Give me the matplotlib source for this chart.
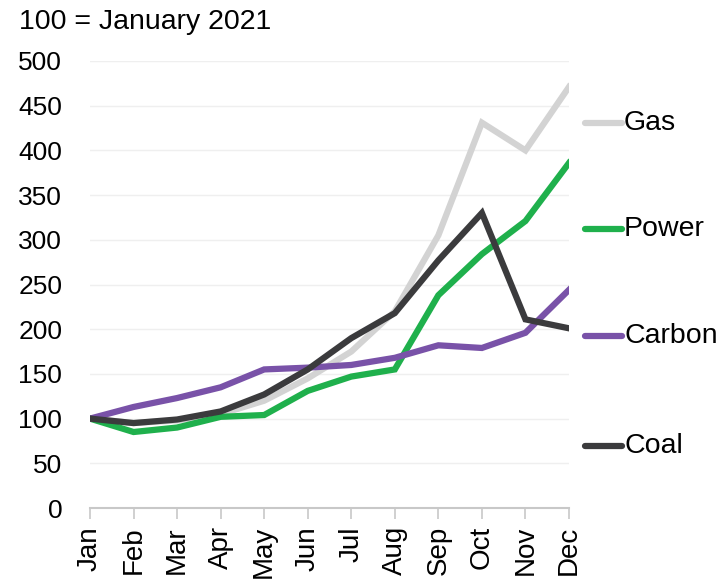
import numpy as np
import matplotlib.pyplot as plt

plt.rcParams['font.family'] = ['Liberation Sans', 'DejaVu Sans']

months = ['Jan', 'Feb', 'Mar', 'Apr', 'May', 'Jun', 'Jul', 'Aug', 'Sep', 'Oct', 'Nov', 'Dec']
gas = [100, 95, 98, 105, 120, 145, 175, 220, 305, 431, 400, 471]
power = [100, 85, 90, 102, 104, 131, 147, 155, 238, 284, 321, 386]
carbon = [100, 113, 123, 135, 155, 157, 160, 168, 182, 179, 196, 244]
coal = [100, 95, 99, 108, 127, 155, 190, 218, 277, 330, 211, 201]

series = [('Gas', gas, '#d3d3d3'),
          ('Power', power, '#1fb04c'),
          ('Carbon', carbon, '#7952a8'),
          ('Coal', coal, '#3b3b3d')]

fig = plt.figure(figsize=(7.23, 5.86), dpi=100)
ax = fig.add_axes([90/723, 78/586, 479/723, 447/586])
x = np.arange(len(months))

for name, vals, col in series:
    ax.plot(x, vals, color=col, lw=4.5, solid_joinstyle='miter')

ax.set_xlim(0, 11)
ax.set_ylim(0, 500)
ax.set_yticks(np.arange(0, 501, 50))
ax.set_xticks(x)
ax.set_xticklabels(months, rotation=90, fontsize=20)
ax.tick_params(axis='y', length=0, labelsize=19, pad=20)
ax.tick_params(axis='x', length=8, color='#c8c8c8', width=1.2, pad=5)
ax.yaxis.grid(True, color='#efefef', lw=1)
ax.set_axisbelow(True)
for s in ['top', 'right', 'left']:
    ax.spines[s].set_visible(False)
ax.spines['bottom'].set_color('#c8c8c8')
ax.spines['bottom'].set_linewidth(1.5)

# legend labels at right
leg_y = [123, 229, 336, 446]
for (name, vals, col), py in zip(series, leg_y):
    yf = 1 - py/586
    fig.add_artist(plt.Line2D([585/723, 622/723], [yf, yf], color=col, lw=4.5,
                              solid_capstyle='round', transform=fig.transFigure))
    fig.text(624/723, yf, name, fontsize=20.5, va='center', ha='left')

fig.text(19/723, 1 - 22/586, '100 = January 2021', fontsize=20.5, va='center', ha='left')

plt.savefig('out.png', dpi=100)
